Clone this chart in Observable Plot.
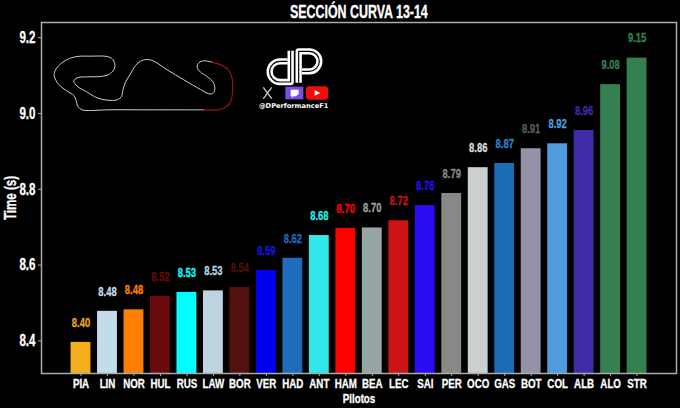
<!DOCTYPE html>
<html><head><meta charset="utf-8">
<style>
html,body{margin:0;padding:0;background:#000;width:680px;height:408px;overflow:hidden}
#wrap{position:relative;width:680px;height:408px;background:#000}
#titlebox{height:21px;width:717px;text-align:center;overflow:visible}
#title{display:inline-block;transform:scaleX(.69);color:#fff;font:bold 18px/24px "Liberation Sans",sans-serif;white-space:nowrap;-webkit-text-stroke:.3px #fff}
#track{position:absolute;left:40px;top:40px}
#logo{position:absolute;left:250px;top:40px}
</style>
<script src="https://cdn.jsdelivr.net/npm/d3@7"></script>
<script src="https://cdn.jsdelivr.net/npm/@observablehq/plot@0.6"></script>
</head><body><div id="wrap">
<div id="titlebox"><span id="title">SECCIÓN CURVA 13-14</span></div>
<div id="chart"></div>
<div id="track"></div>
<svg id="logo" width="90" height="80" viewBox="0 0 270 240">
  <g fill="none" stroke-linejoin="round">
    <path d="M122 32 V126 H90 A31 31 0 0 1 90 64 H112" stroke="#fff" stroke-width="19"/>
    <path d="M122 32 V126 H90 A31 31 0 0 1 90 64 H112" stroke="#000" stroke-width="3.5"/>
    <path d="M146 128 V34 H178 A30 30 0 0 1 178 94 H156" stroke="#fff" stroke-width="19"/>
    <path d="M146 128 V34 H178 A30 30 0 0 1 178 94 H156" stroke="#000" stroke-width="3.5"/>
    <path d="M40 142 L65 176 M65 142 L40 176" stroke="#ccc" stroke-width="4"/>
  </g>
  <rect x="106" y="140" width="54" height="38" fill="#7b4ee0"/>
  <path d="M122 149 H146 V162 L138 169 H130 L126 173 V169 H122 Z" fill="#fff"/>
  <rect x="168" y="139" width="66" height="40" rx="9" fill="#f20d0d"/>
  <path d="M194 151 L211 159 L194 167 Z" fill="#fff"/>
  <text x="131" y="204" text-anchor="middle" fill="#fff" font-family="DejaVu Sans" font-weight="bold" font-size="20">@DPerformanceF1</text>
</svg>
</div>
<script>
const pilots = ["PIA","LIN","NOR","HUL","RUS","LAW","BOR","VER","HAD","ANT","HAM","BEA","LEC","SAI","PER","OCO","GAS","BOT","COL","ALB","ALO","STR"];
const times = [8.396,8.478,8.482,8.518,8.528,8.532,8.541,8.586,8.618,8.678,8.697,8.698,8.717,8.757,8.789,8.857,8.868,8.907,8.92,8.955,9.076,9.146];
const barColors = ["#f5ae1c","#c3dcea","#ff8000","#6a0a0a","#00ffff","#bfd3e0","#52100e","#0000ee","#1f6cbf","#30e8e8","#ff0000","#95a5a6","#cc1414","#2a0cf5","#888888","#cccfcf","#1a6cb5","#9592a8","#4f9bdd","#3e2ca8","#348050","#348050"];
const labelColors = ["#e8a420","#c3dcea","#ff8000","#6a0a0a","#00ffff","#bfd3e0","#52100e","#1414d8","#1f6cbf","#30e8e8","#ff0000","#95a5a6","#cc1414","#2a0cf5","#888888","#dddddd","#2a80cc","#5a5a5a","#4f9bdd","#3e2ca8","#348050","#348050"];
const yTicks = [8.4,8.6,8.8,9.0,9.2];
const yMin = 8.314, yMax = 9.24;
const font = "Liberation Sans";

const rows = pilots.map((p,i)=>({pilot:p,time:times[i],bar:barColors[i],label:labelColors[i]}));

const chart = Plot.plot({
  width:680, height:387,
  marginLeft:41, marginRight:4, marginTop:1, marginBottom:35,
  style:{background:"#000",fontFamily:font},
  x:{domain:pilots, range:[63.95,653.15], padding:0.25, round:false},
  y:{domain:[yMin,yMax]},
  marks:[
    Plot.rectY(rows,{x:"pilot",y1:yMin,y2:"time",fill:d=>d.bar}),
    Plot.frame({stroke:"#aaa",strokeWidth:1.5}),
    Plot.text(rows,{x:"pilot",y:"time",text:d=>d.time.toFixed(2),dy:-20,fill:d=>d.label,fontSize:13.5,fontWeight:"bold"}),
    Plot.axisX({anchor:"bottom",tickSize:3,tickPadding:2,stroke:"#aaa",color:"#fff",fontSize:13,fontWeight:"bold",
      label:"Pilotos",labelAnchor:"center",labelArrow:"none",labelOffset:29}),
    Plot.axisY({anchor:"left",ticks:yTicks,tickFormat:d=>d.toFixed(1),tickSize:3,tickPadding:3,stroke:"#aaa",color:"#fff",fontSize:16.5,fontWeight:"bold",
      label:"Time (s)",labelAnchor:"center",labelArrow:"none",labelOffset:37})
  ]
});
document.getElementById("chart").appendChild(chart);
// The reference uses a condensed heavy face: narrow the installed sans to match, glyph by glyph.
chart.querySelectorAll("text").forEach(t=>{
  const cs = getComputedStyle(t);
  const k = parseFloat(cs.fontSize) === 13 ? 0.75 : 0.7;
  const len = t.getComputedTextLength();
  if (len>0){
    t.setAttribute("textLength",(len*k).toFixed(2));
    t.setAttribute("lengthAdjust","spacingAndGlyphs");
    t.style.stroke = cs.fill;
    t.style.strokeWidth = "0.3px";
  }
});

const trackWhite = {
  x:[490,400,300,200,150,125,112,107,100,80,55,42,42,55,80,110,150,200,215,223,220,205,180,140,110,100,110,140,170,200,230,243,247,255,270,285,300,320,340,380,430,480,505,518,523,518,500,480,470,475,490,515],
  y:[208,208,208,208,210,208,198,180,165,152,132,110,95,75,57,48,47,48,55,70,88,102,108,109,112,122,137,155,172,179,178,168,150,125,100,75,62,57,62,88,118,147,160,158,145,125,108,95,80,67,61,65]
};
const trackRed = {
  x:[515,545,565,575,576,572,555,530,490],
  y:[65,75,90,115,150,180,200,208,208]
};
const toPts = t => t.x.map((x,i)=>({x,y:t.y[i]}));
const track = Plot.plot({
  width:200, height:80, margin:0,
  style:{background:"transparent"},
  x:{domain:[0,600],axis:null},
  y:{domain:[240,0],axis:null},
  marks:[
    Plot.line(toPts(trackWhite),{x:"x",y:"y",stroke:"#d0d0d0",strokeWidth:1,curve:"catmull-rom"}),
    Plot.line(toPts(trackRed),{x:"x",y:"y",stroke:"#a01010",strokeWidth:1.2,curve:"catmull-rom"})
  ]
});
document.getElementById("track").appendChild(track);
</script></body></html>
